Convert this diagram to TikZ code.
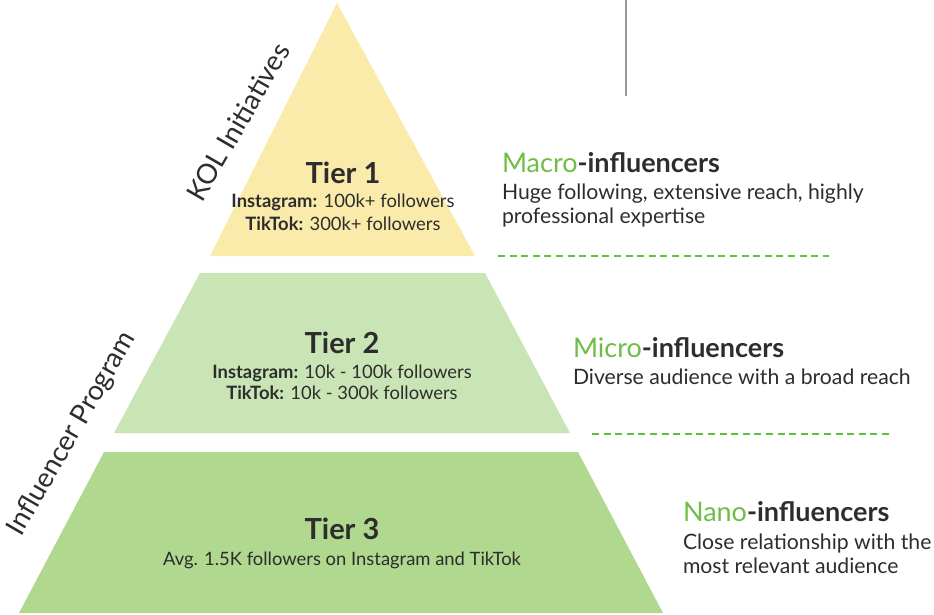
\documentclass[tikz,border=0pt]{standalone}
\usepackage{fontspec}
\setmainfont{Lato}
\definecolor{inkgray}{HTML}{2D2D2D}
\definecolor{tieroneyellow}{HTML}{FBEBAA}
\definecolor{tiertwogreen}{HTML}{CAE5B5}
\definecolor{tierthreegreen}{HTML}{B0D88F}
\definecolor{accentgreen}{HTML}{6CBE45}
\definecolor{rulegreen}{HTML}{5CC33A}
\definecolor{stemgray}{HTML}{999999}
\begin{document}
\begin{tikzpicture}[x=1pt,y=-1pt,
  txt/.style={inner sep=0pt,outer sep=0pt,text=inkgray},
  tiertitle/.style={txt,anchor=base,font=\fontsize{29}{34}\selectfont\bfseries},
  tierline/.style={txt,anchor=base,font=\fontsize{18.4}{22}\selectfont},
  sidehead/.style={txt,anchor=base west,font=\fontsize{27}{32}\selectfont\bfseries},
  sidetext/.style={txt,anchor=base west,font=\fontsize{21.2}{25}\selectfont},
  slanted/.style={txt,rotate=60,font=\fontsize{27.5}{33}\selectfont},
  separator/.style={draw=rulegreen,line width=2pt,dash pattern=on 7pt off 4.6pt}]
\useasboundingbox (0,0) rectangle (934,614);

% pyramid tiers
\fill[tieroneyellow] (337,3) -- (475,256) -- (210,256) -- cycle;
\fill[tiertwogreen] (200,273) -- (485,273) -- (570,433) -- (114,433) -- cycle;
\fill[tierthreegreen] (104,452) -- (578,452) -- (663,613) -- (19,613) -- cycle;

% top stem and separators
\coordinate (stemtop) at (626,0);
\coordinate (stembot) at (626,96);
\draw[stemgray,line width=1.5pt] (stemtop) -- (stembot);
\coordinate (sepAa) at (498,256);
\coordinate (sepAb) at (829,256);
\coordinate (sepBa) at (592,433.5);
\coordinate (sepBb) at (892,433.5);
\draw[separator] (sepAa) -- (sepAb);
\draw[separator] (sepBa) -- (sepBb);

% tier labels
\node[tiertitle] (t1) at (343,183) {Tier 1};
\node[tierline] (t1a) at (343,207) {\textbf{Instagram:} 100k+ followers};
\node[tierline] (t1b) at (343,230) {\textbf{TikTok:} 300k+ followers};

\node[tiertitle] (t2) at (342,353) {Tier 2};
\node[tierline] (t2a) at (342,378) {\textbf{Instagram:} 10k - 100k followers};
\node[tierline] (t2b) at (342,399) {\textbf{TikTok:} 10k - 300k followers};

\node[tiertitle] (t3) at (342,539) {Tier 3};
\node[tierline] (t3a) at (342,565) {Avg. 1.5K followers on Instagram and TikTok};

% side descriptions
\node[sidehead] (macro) at (502,172) {\textcolor{accentgreen}{\mdseries Macro}-influencers};
\node[sidetext] (macroa) at (502,199) {Huge following, extensive reach, highly};
\node[sidetext] (macrob) at (502,223) {professional expertise};

\node[sidehead] (micro) at (573,357) {\textcolor{accentgreen}{\mdseries Micro}-influencers};
\node[sidetext] (microa) at (573,384) {Diverse audience with a broad reach};

\node[sidehead] (nano) at (683,521) {\textcolor{accentgreen}{\mdseries Nano}-influencers};
\node[sidetext] (nanoa) at (683,549) {Close relationship with the};
\node[sidetext] (nanob) at (683,573) {most relevant audience};

% slanted group labels
\node[slanted] (kol) at (238,122) {KOL Initiatives};
\node[slanted] (prog) at (72,434) {Influencer Program};
\end{tikzpicture}
\end{document}
